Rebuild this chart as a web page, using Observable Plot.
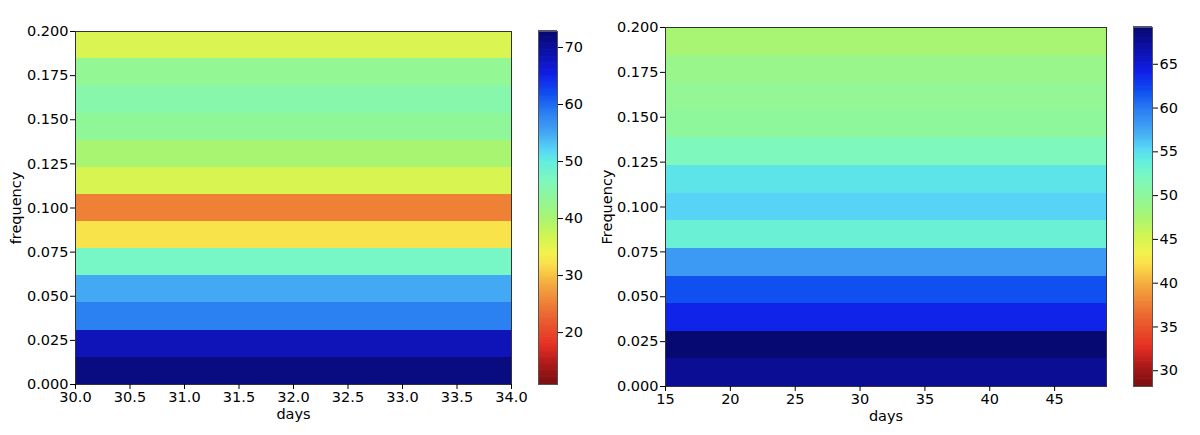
<!DOCTYPE html>
<html>
<head>
<meta charset="utf-8">
<script src="https://cdn.jsdelivr.net/npm/d3@7"></script>
<script src="https://cdn.jsdelivr.net/npm/@observablehq/plot@0.6"></script>
<style>
  html, body { margin: 0; padding: 0; background: #fff; }
  #wrap { position: relative; width: 1200px; height: 435px; overflow: hidden; }
  #wrap > svg, #wrap > figure { position: absolute; top: 0; margin: 0; }
</style>
</head>
<body>
<div id="wrap"></div>
<script>
// ---- data ----
const freqEdges = [0.0000, 0.0154, 0.0308, 0.0462, 0.0615, 0.0769, 0.0923, 0.1077, 0.1231, 0.1385, 0.1538, 0.1692, 0.1846, 0.2000];
const leftDays = [30, 34];
const rightDays = [15, 49];
const leftValues = [71.6, 68.2, 58.3, 54.9, 47.4, 32.3, 25.1, 36.3, 40.0, 43.4, 45.0, 43.0, 36.0];
const rightValues = [67.6, 69.0, 63.9, 61.8, 58.1, 53.4, 55.5, 54.6, 51.8, 49.9, 49.5, 48.9, 47.5];
const leftRange = [10.9, 72.8];
const rightRange = [28.2, 69.2];
const freqTicks = [0, 0.025, 0.05, 0.075, 0.1, 0.125, 0.15, 0.175, 0.2];
const leftDayTicks = [30, 30.5, 31, 31.5, 32, 32.5, 33, 33.5, 34];
const rightDayTicks = [15, 20, 25, 30, 35, 40, 45];
const leftBarTicks = [20, 30, 40, 50, 60, 70];
const rightBarTicks = [30, 35, 40, 45, 50, 55, 60, 65];

// ---- colormap (reversed jet-like) ----
const stopT = [0.00, 0.06, 0.11, 0.20, 0.28, 0.34, 0.37, 0.42, 0.47, 0.53, 0.58, 0.63, 0.66, 0.72, 0.77, 0.82, 0.875, 0.90, 1.00];
const stopColors = ["#7a0f10", "#b01a1a", "#e53024", "#ec6a32", "#f3a83e", "#fbe04a", "#f2f24e", "#d0f552", "#a8f572", "#8ef79c", "#7cf8c0", "#62eedf", "#58d8f5", "#40a0f4", "#2a7ef2", "#1050f0", "#1020e8", "#1018d0", "#07086e"];

function colorScale([lo, hi]) {
  return {type: "linear", domain: stopT.map(t => lo + t * (hi - lo)), range: stopColors, interpolate: "rgb"};
}

const baseStyle = {fontFamily: "DejaVu Sans, sans-serif", fontSize: "14.5px", color: "#000", background: "transparent", overflow: "visible"};

function panel({days, values, range, xTicks, xFmt, yLabel, mLeft, mRight, mTop, mBottom, yLabelOffset}) {
  const data = values.map((v, i) => ({f1: freqEdges[i], f2: freqEdges[i + 1], v}));
  return Plot.plot({
    width: 600, height: 435,
    marginLeft: mLeft, marginRight: mRight, marginTop: mTop, marginBottom: mBottom,
    x: {domain: days},
    y: {domain: [0, 0.2]},
    color: colorScale(range),
    style: baseStyle,
    marks: [
      Plot.rect(data, {x1: () => days[0], x2: () => days[1], y1: "f1", y2: "f2", fill: "v", shapeRendering: "crispEdges"}),
      Plot.frame({stroke: "#333", strokeWidth: 1}),
      Plot.axisX({ticks: xTicks, tickFormat: xFmt, tickSize: 5, tickPadding: 2, label: "days", labelAnchor: "center", labelArrow: "none", labelOffset: 34}),
      Plot.axisY({ticks: freqTicks, tickFormat: d3.format(".3f"), tickSize: 5, tickPadding: 2, label: yLabel, labelAnchor: "center", labelArrow: "none", labelOffset: yLabelOffset})
    ]
  });
}

function colorbar({range, ticks, mTop, mBottom}) {
  const [lo, hi] = range;
  const n = 300;
  const steps = d3.range(n).map(i => ({a: lo + (hi - lo) * i / n, b: lo + (hi - lo) * (i + 1) / n}));
  return Plot.plot({
    width: 62, height: 435,
    marginLeft: 0, marginRight: 43, marginTop: mTop, marginBottom: mBottom,
    x: {domain: [0, 1], axis: null},
    y: {domain: [lo, hi]},
    color: colorScale(range),
    style: baseStyle,
    marks: [
      Plot.rect(steps, {x1: 0, x2: 1, y1: "a", y2: d => d.b + (hi - lo) * 0.002, fill: d => (d.a + d.b) / 2}),
      Plot.frame({stroke: "#555", strokeWidth: 1}),
      Plot.axisY({anchor: "right", ticks, tickFormat: d3.format("d"), tickSize: 5, tickPadding: 2, label: null})
    ]
  });
}

const wrap = document.getElementById("wrap");

const leftPanel = panel({days: leftDays, values: leftValues, range: leftRange, xTicks: leftDayTicks, xFmt: d3.format(".1f"),
  yLabel: "frequency", mLeft: 75, mRight: 89, mTop: 31, mBottom: 51, yLabelOffset: 65});
leftPanel.style.left = "0px";
wrap.appendChild(leftPanel);

const leftBar = colorbar({range: leftRange, ticks: leftBarTicks, mTop: 31, mBottom: 51});
leftBar.style.left = "538px";
wrap.appendChild(leftBar);

const rightPanel = panel({days: rightDays, values: rightValues, range: rightRange, xTicks: rightDayTicks, xFmt: d3.format("d"),
  yLabel: "Frequency", mLeft: 65, mRight: 94, mTop: 27, mBottom: 49, yLabelOffset: 64});
rightPanel.style.left = "600px";
wrap.appendChild(rightPanel);

const rightBar = colorbar({range: rightRange, ticks: rightBarTicks, mTop: 27, mBottom: 49});
rightBar.style.left = "1133px";
wrap.appendChild(rightBar);
</script>
</body>
</html>
